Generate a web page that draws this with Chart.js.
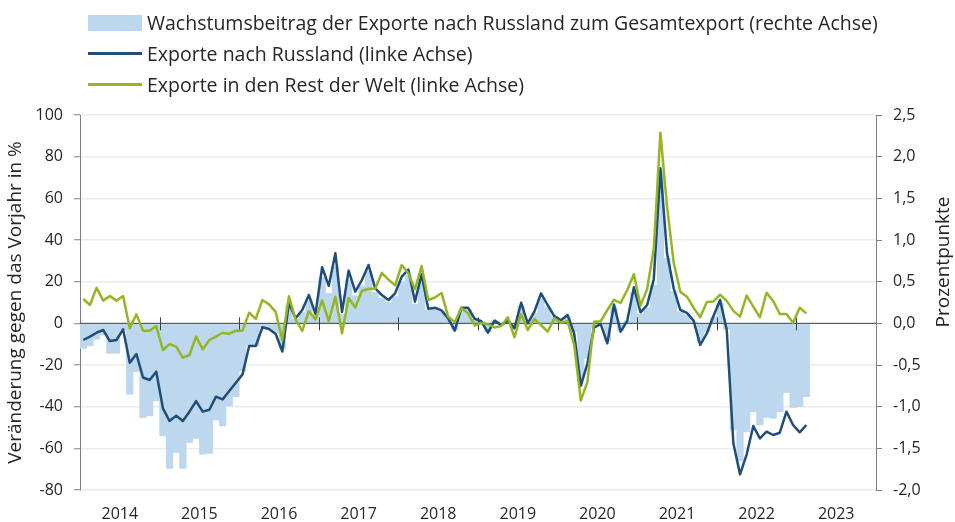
<!DOCTYPE html>
<html>
<head>
<meta charset="utf-8">
<script src="https://cdn.jsdelivr.net/npm/chart.js@4/dist/chart.umd.min.js"></script>
<style>
  body { margin: 0; background: #fff; }
  #wrap { position: relative; width: 955px; height: 522px; }
  #legend { position: absolute; left: 88px; top: 7px; font-family: "Open Sans", sans-serif; font-size: 19.5px; color: #262626; }
  .item { display: flex; align-items: center; height: 31px; white-space: nowrap; }
  .swatch { width: 54px; height: 16px; margin-right: 5px; }
  .line { width: 54px; height: 3px; margin-right: 5px; }
</style>
</head>
<body>
<div id="wrap">
  <canvas id="chart" width="955" height="522"></canvas>
  <div id="legend"></div>
</div>
<script>
// monthly data, Jan 2014 .. Feb 2023
const years = [2014, 2015, 2016, 2017, 2018, 2019, 2020, 2021, 2022, 2023];

// Wachstumsbeitrag (Prozentpunkte, rechte Achse)
const contribution = [
  -0.3, -0.27, -0.19, -0.14, -0.36, -0.36, -0.08, -0.85, -0.58, -1.13, -1.11, -0.93,
  -1.35, -1.74, -1.55, -1.74, -1.43, -1.38, -1.57, -1.56, -1.16, -1.23, -0.99, -0.88,
  -0.57, -0.27, -0.27, -0.05, -0.06, -0.11, -0.3, 0.22, 0.05, 0.13, 0.28, 0.1,
  0.55, 0.36, 0.68, 0.11, 0.52, 0.33, 0.45, 0.62, 0.37, 0.3, 0.25, 0.32,
  0.5, 0.58, 0.23, 0.53, 0.16, 0.17, 0.14, 0.06, -0.08, 0.17, 0.17, 0.05,
  0.02, -0.1, 0.03, -0.02, 0.03, -0.05, 0.21, 0, 0.12, 0.3, 0.19, 0.08,
  0.03, 0.08, -0.1, -0.66, -0.42, -0.05, -0.02, -0.21, 0.19, -0.09, 0.03, 0.37,
  0.11, 0.19, 0.46, 1.84, 0.78, 0.38, 0.14, 0.1, 0.02, -0.22, -0.1, 0.07,
  0.24, -0.07, -1.28, -1.65, -1.3, -1.06, -1.22, -1.13, -1.14, -1.06, -0.83, -1.01,
  -1.0, -0.88
];

// Exporte nach Russland, % gg. Vorjahr
const russia = [
  -8, -6.4, -4.5, -3.2, -8.5, -8, -2.9, -18.9, -14.7, -26, -27.2, -23.2,
  -40.8, -46.9, -44.3, -46.9, -42.4, -37.3, -42.4, -41.5, -35.2, -36.5, -32.5, -28.5,
  -24.5, -10.9, -10.9, -1.9, -2.7, -5.1, -13.5, 9.8, 2.4, 6.4, 13.6, 4.5,
  26.9, 18, 33.6, 5.4, 25.3, 15.2, 20.8, 28, 16.8, 13.6, 11.2, 14.4,
  22.4, 25.8, 10.4, 23.6, 7, 7.5, 6.2, 2.4, -3.5, 7.5, 7.5, 2.2,
  1, -4.5, 1.3, -0.8, 1.3, -2.4, 9.9, 0, 5.6, 14.4, 8.8, 3.5,
  1.5, 4, -5, -30, -19.2, -2, -0.4, -9.6, 9, -4, 1.2, 17.3,
  5.3, 8.8, 21.1, 74.4, 33.6, 16.8, 6.5, 5, 1.3, -10.4, -4.8, 3.5,
  11.2, -3.2, -57.6, -72.5, -63, -49.3, -55.2, -52, -53.6, -52.5, -42.4, -48.8,
  -52.3, -48.8
];

// Exporte in den Rest der Welt, % gg. Vorjahr
const restOfWorld = [
  11.7, 8.8, 17.1, 10.9, 13.1, 10.9, 13.1, -2.4, 4.3, -3.5, -3.5, -1.3,
  -12.8, -10, -11.2, -16.5, -15.2, -6.4, -12.5, -8, -6.4, -4.5, -5.1, -3.5,
  -3.5, 5.1, 2.1, 11.2, 9.1, 5.5, -8, 13, 1.8, -3.6, 5.8, 1.9,
  11, 1, 12.8, -4.8, 12.2, 7.6, 15.5, 16.6, 16.6, 24.2, 21, 18.2,
  28, 24, 16.4, 27.5, 11.2, 12.4, 14.6, 3.3, 0.6, 7.4, 4.8, -1,
  0.2, -0.4, -2, -1.3, 2.9, -6.7, 4.5, -3.2, 2.1, -0.8, -4, 2.4,
  0.3, 1, -10.4, -37.1, -28, 0.8, 1, 6.4, 11.3, 9.8, 16, 23.6,
  8.5, 16.5, 36, 91.5, 56, 29.2, 15.2, 12.8, 7.5, 2.9, 10.2, 10.5,
  13.8, 10.8, 6, 3.2, 13.3, 8, 2.9, 14.7, 10.7, 4.5, 4.5, 0.3,
  7.5, 4.8
];

const seriesNames = [
  "Wachstumsbeitrag der Exporte nach Russland zum Gesamtexport (rechte Achse)",
  "Exporte nach Russland (linke Achse)",
  "Exporte in den Rest der Welt (linke Achse)"
];
const colors = ["#bdd7ee", "#1f4e79", "#95b623"];

// one category per month over the whole axis
let labels = [];
for (const y of years) {
  for (let m = 1; m <= 12; m++) {
    labels.push(y + "-" + m);
  }
}

const textColor = "#262626";
const fontFamily = "'Open Sans', sans-serif";

// legend as html, one item per row
const legendBox = document.getElementById("legend");
seriesNames.forEach(function(name, i) {
  const mark = i === 0 ? "swatch" : "line";
  legendBox.insertAdjacentHTML("beforeend",
    `<div class="item"><span class="${mark}" style="background:${colors[i]}"></span>${name}</div>`);
});

// zero line + year marks, drawn on top of the bars but under the lines
const zeroLinePlugin = {
  id: "zeroLine",
  beforeDatasetDraw(chart, args) {
    if (args.index !== 1) return;
    const ctx = chart.ctx;
    const x = chart.scales.x;
    const y0 = chart.scales.y.getPixelForValue(0);
    const half = (x.getPixelForValue(1) - x.getPixelForValue(0)) / 2;
    ctx.save();
    ctx.strokeStyle = "#404040";
    ctx.lineWidth = 1;
    ctx.beginPath();
    ctx.moveTo(chart.chartArea.left, y0);
    ctx.lineTo(chart.chartArea.right, y0);
    for (let k = 1; k < years.length; k++) {
      const px = Math.round(x.getPixelForValue(k * 12) - half) + 0.5;
      ctx.moveTo(px, y0 - 6);
      ctx.lineTo(px, y0 + 7);
    }
    ctx.stroke();
    ctx.restore();
  },
  afterDraw(chart) {
    const ctx = chart.ctx;
    ctx.save();
    ctx.fillStyle = textColor;
    ctx.font = "19px " + fontFamily;
    ctx.textAlign = "center";
    ctx.textBaseline = "middle";
    ctx.translate(944, 262);
    ctx.rotate(-Math.PI / 2);
    ctx.fillText("Prozentpunkte", 0, 0);
    ctx.restore();
  }
};

const ctx = document.getElementById("chart");
const myChart = new Chart(ctx, {
  type: "bar",
  data: {
    labels: labels,
    datasets: [
      {
        type: "bar",
        label: seriesNames[0],
        data: contribution,
        yAxisID: "y2",
        backgroundColor: colors[0],
        borderWidth: 0,
        barPercentage: 1,
        categoryPercentage: 1,
        order: 3
      },
      {
        type: "line",
        label: seriesNames[1],
        data: russia,
        yAxisID: "y",
        borderColor: colors[1],
        borderWidth: 2.5,
        pointRadius: 0,
        borderJoinStyle: "round",
        tension: 0,
        order: 2
      },
      {
        type: "line",
        label: seriesNames[2],
        data: restOfWorld,
        yAxisID: "y",
        borderColor: colors[2],
        borderWidth: 2.5,
        pointRadius: 0,
        borderJoinStyle: "round",
        tension: 0,
        order: 1
      }
    ]
  },
  options: {
    responsive: false,
    animation: false,
    devicePixelRatio: 1,
    layout: { padding: { top: 115, left: 0, right: 0, bottom: 0 } },
    plugins: {
      legend: { display: false },
      tooltip: { enabled: false }
    },
    scales: {
      x: {
        offset: true,
        grid: { display: false, drawTicks: false },
        border: { display: false },
        ticks: {
          autoSkip: false,
          maxRotation: 0,
          padding: 15,
          labelOffset: 3.3,
          color: textColor,
          font: { family: fontFamily, size: 16 },
          callback: function(value, index) {
            return index % 12 === 5 ? labels[index].split("-")[0] : "";
          }
        },
        afterFit: function(scale) { scale.height = 32; }
      },
      y: {
        position: "left",
        min: -80,
        max: 100,
        ticks: {
          stepSize: 20,
          padding: 11,
          color: textColor,
          font: { family: fontFamily, size: 16 }
        },
        grid: {
          color: "#ececec",
          lineWidth: 1.5,
          tickLength: 6,
          tickColor: "#7f7f7f",
          tickWidth: 1
        },
        border: { color: "#7f7f7f", width: 1 },
        title: {
          display: true,
          text: "Veränderung gegen das Vorjahr in %",
          color: textColor,
          font: { family: fontFamily, size: 19 },
          padding: { top: 4, bottom: 0 }
        },
        afterFit: function(scale) { scale.width = 80; }
      },
      y2: {
        position: "right",
        min: -2,
        max: 2.5,
        ticks: {
          stepSize: 0.5,
          padding: 11,
          color: textColor,
          font: { family: fontFamily, size: 16 },
          callback: function(value) { return value.toFixed(1).replace(".", ","); }
        },
        grid: {
          drawOnChartArea: false,
          tickLength: 6,
          tickColor: "#7f7f7f",
          tickWidth: 1
        },
        border: { color: "#7f7f7f", width: 1 },
        afterFit: function(scale) { scale.width = 79; }
      }
    }
  },
  plugins: [zeroLinePlugin]
});
</script>
</body>
</html>
